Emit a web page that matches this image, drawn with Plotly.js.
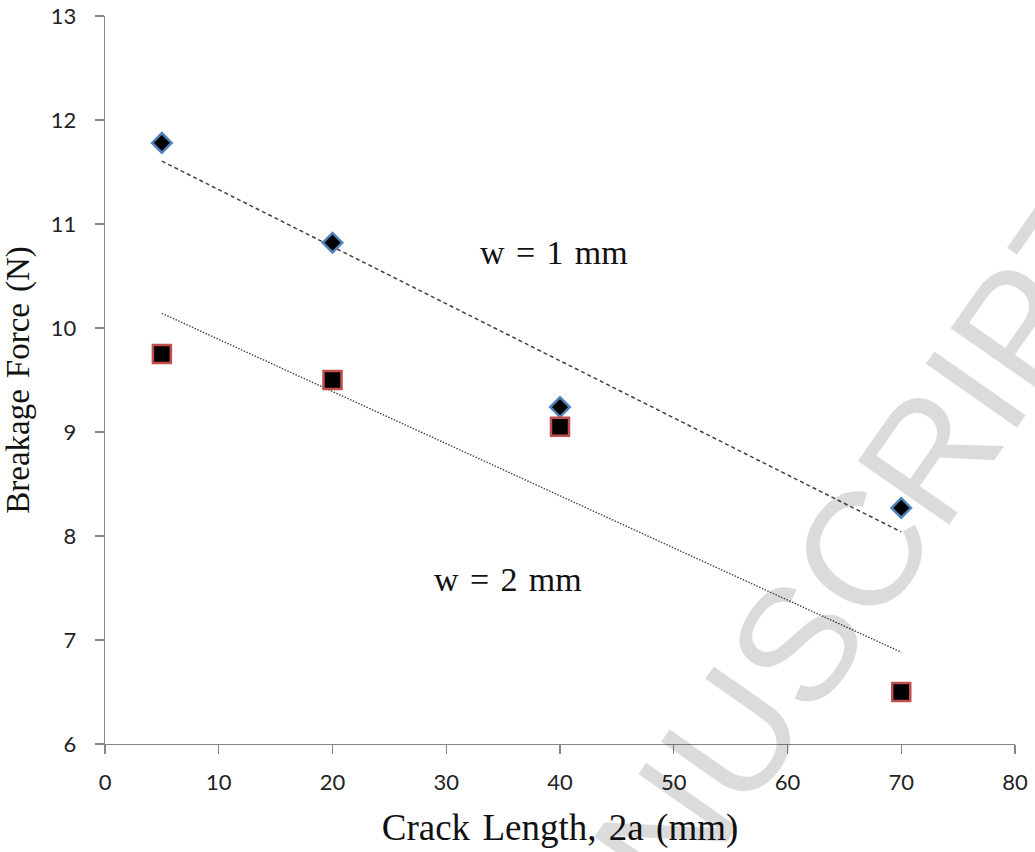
<!DOCTYPE html>
<html>
<head>
<meta charset="utf-8">
<script src="https://cdn.plot.ly/plotly-3.0.1.min.js"></script>
<style>
html,body{margin:0;padding:0;background:#fff;overflow:hidden;}
#wrap{position:relative;width:1035px;height:852px;overflow:hidden;}
#chart{width:1035px;height:852px;}
#wm{position:absolute;left:0;top:0;white-space:nowrap;pointer-events:none;
  font-family:"Liberation Sans",Arial,sans-serif;font-size:162px;line-height:1;color:rgba(0,0,0,0.14);
  transform-origin:0 0;}
</style>
</head>
<body>
<div id="wrap">
<div id="chart"></div>
<div id="wm">MANUSCRIPT</div>
</div>
<script>
// Data
const crackLength = [5, 20, 40, 70];
const forceW1 = [11.78, 10.82, 9.24, 8.27];   // w = 1 mm
const forceW2 = [9.75, 9.50, 9.05, 6.50];     // w = 2 mm
const xTicks = [0, 10, 20, 30, 40, 50, 60, 70, 80];
const yTicks = [6, 7, 8, 9, 10, 11, 12, 13];

// Least-squares linear trendline computed from the data
function trend(xs, ys) {
  const n = xs.length;
  const mx = xs.reduce((a, b) => a + b, 0) / n;
  const my = ys.reduce((a, b) => a + b, 0) / n;
  let sxy = 0, sxx = 0;
  for (let i = 0; i < n; i++) { sxy += (xs[i] - mx) * (ys[i] - my); sxx += (xs[i] - mx) ** 2; }
  const b = sxy / sxx, a = my - b * mx;
  const x0 = Math.min(...xs), x1 = Math.max(...xs);
  return { x: [x0, x1], y: [a + b * x0, a + b * x1] };
}
const t1 = trend(crackLength, forceW1);
const t2 = trend(crackLength, forceW2);

const serif = '"Liberation Serif", "Times New Roman", serif';
const sp = ' \u200a';

const traces = [
  { x: t1.x, y: t1.y, mode: 'lines', line: { color: '#404040', width: 1.5, dash: '4px,3px' }, hoverinfo: 'skip', showlegend: false },
  { x: t2.x, y: t2.y, mode: 'lines', line: { color: '#404040', width: 1.5, dash: '1.5px,1.5px' }, hoverinfo: 'skip', showlegend: false },
  { x: crackLength, y: forceW1, mode: 'markers', name: 'w = 1 mm',
    marker: { symbol: 'diamond', size: 15, color: '#000000', line: { color: '#4f81bd', width: 2.5 } }, showlegend: false },
  { x: crackLength, y: forceW2, mode: 'markers', name: 'w = 2 mm',
    marker: { symbol: 'square', size: 18, color: '#000000', line: { color: '#c0504d', width: 2.5 } }, showlegend: false }
];

const axisCommon = {
  showgrid: false, zeroline: false, showline: true, linecolor: '#868686', linewidth: 1.3,
  ticks: 'outside', ticklen: 9, tickcolor: '#868686', tickwidth: 1.3,
  tickfont: { family: 'Lato, "Open Sans", sans-serif', size: 22, color: '#222' }
};

const layout = {
  width: 1035, height: 852,
  margin: { l: 105, r: 20, t: 16, b: 108 },
  paper_bgcolor: '#ffffff', plot_bgcolor: '#ffffff',
  xaxis: Object.assign({}, axisCommon, {
    range: [0, 80], tickvals: xTicks, ticktext: xTicks.map(String), ticklabelstandoff: 9,
    title: { text: ['Crack', 'Length,', '2a', '(mm)'].join(sp), font: { family: serif, size: 37, color: '#111' }, standoff: 20 }
  }),
  yaxis: Object.assign({}, axisCommon, {
    range: [6, 13], tickvals: yTicks, ticktext: yTicks.map(String), ticklabelstandoff: 14,
    title: { text: ['Breakage', 'Force', '(N)'].join(sp), font: { family: serif, size: 33, color: '#111' }, standoff: 18 }
  }),
  annotations: [
    { x: 39.5, y: 10.73, xref: 'x', yref: 'y', text: ['w', '=', '1', 'mm'].join(sp), showarrow: false,
      font: { family: serif, size: 34, color: '#111' } },
    { x: 35.4, y: 7.58, xref: 'x', yref: 'y', text: ['w', '=', '2', 'mm'].join(sp), showarrow: false,
      font: { family: serif, size: 34, color: '#111' } }
  ]
};

Plotly.newPlot('chart', traces, layout, { displayModeBar: false, staticPlot: true }).then(function () {
  // Watermark: centre of the word placed near (800, 640), rotated upward to the right
  const wm = document.getElementById('wm');
  const w = wm.offsetWidth, h = wm.offsetHeight;
  const ang = -55;
  wm.style.transform = 'translate(800px,640px) rotate(' + ang + 'deg) translate(' + (-w / 2) + 'px,' + (-h / 2) + 'px)';
});
</script>
</body>
</html>
